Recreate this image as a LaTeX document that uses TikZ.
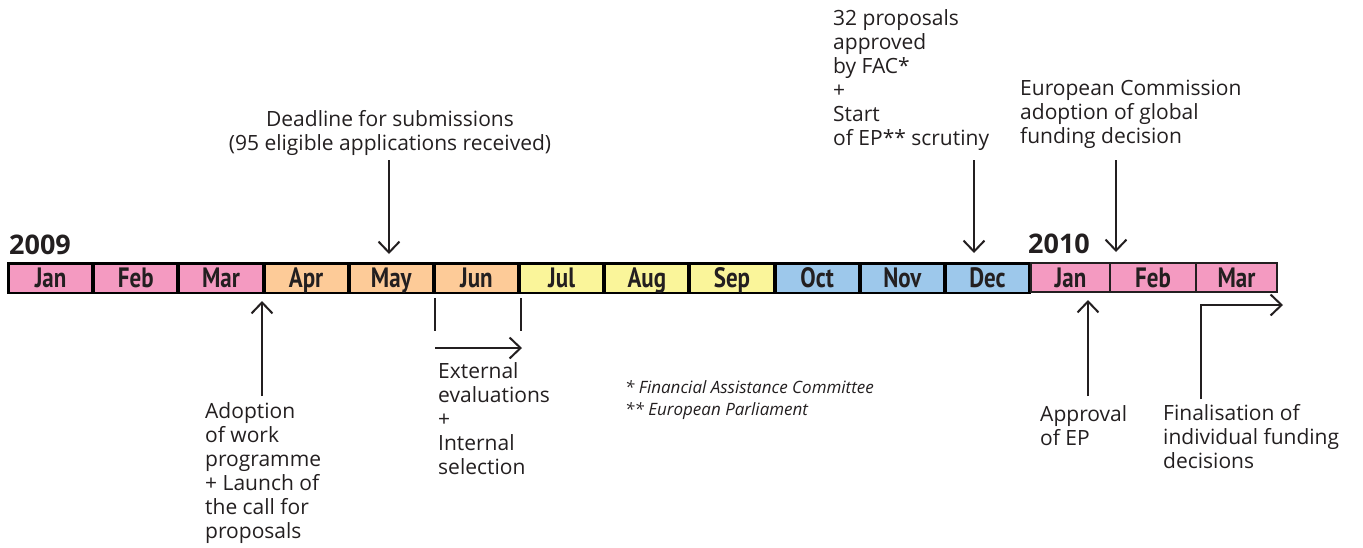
\documentclass[tikz,border=0pt]{standalone}
\usepackage{fontspec}
\setmainfont{Open Sans}
\newfontfamily\monthfont{PT Sans}
\usetikzlibrary{arrows.meta}
\definecolor{mpink}{HTML}{F49AC1}
\definecolor{mpeach}{HTML}{FDCB98}
\definecolor{myellow}{HTML}{FAF59A}
\definecolor{mblue}{HTML}{9DC8EB}
\definecolor{ink}{HTML}{231F20}
\newcommand\mlab[1]{\scalebox{0.82}[1]{#1}}
\begin{document}
\begin{tikzpicture}[x=1pt,y=-1pt,
  cell/.style={inner sep=0pt, minimum height=27pt, text height=21pt, text depth=2pt,
    text=ink, font=\monthfont\bfseries\fontsize{28}{28}\selectfont},
  cellb/.style={cell, minimum height=29pt, draw=ink, line width=1.8pt},
  txt/.style={inner sep=0pt, anchor=north west, align=left, text=ink,
    font=\fontsize{21}{24}\selectfont},
  ctxt/.style={txt, anchor=north, align=center},
  note/.style={txt, font=\itshape\fontsize{17}{22}\selectfont},
  year/.style={inner sep=0pt, anchor=base west, text=ink,
    font=\bfseries\fontsize{27}{27}\selectfont},
  arr/.style={draw=ink, line width=2pt, -{Straight Barb[length=11pt,width=21pt,line width=2pt]}},
  tick/.style={draw=ink, line width=1.6pt}]
\useasboundingbox (0,0) rectangle (1363,547);
% 2009 frame
\fill[black] (7,262) rectangle (1031,294);
\foreach \m/\c [count=\i from 0] in {Jan/mpink,Feb/mpink,Mar/mpink,Apr/mpeach,May/mpeach,Jun/mpeach,Jul/myellow,Aug/myellow,Sep/myellow,Oct/mblue,Nov/mblue,Dec/mblue}{
  \node[cell, fill=\c, minimum width=81.2pt] (m\i) at ({50.6+85.17*\i},278) {\mlab{\m}};
}
% 2010
\node[cellb, fill=mpink, minimum width=79pt] (n0) at (1070.5,277.5) {\mlab{Jan}};
\node[cellb, fill=mpink, minimum width=86pt] (n1) at (1153,277.5) {\mlab{Feb}};
\node[cellb, fill=mpink, minimum width=81pt] (n2) at (1236.5,277.5) {\mlab{Mar}};
% years
\node[year] (y09) at (9,254) {2009};
\node[year] (y10) at (1028,253) {2010};
% top texts
\node[ctxt] (deadline) at (390,109) {\strut Deadline for submissions\\(95 eligible applications received)};
\node[txt] (fac) at (833,8) {\strut 32 proposals\\approved\\by FAC*\\+\\Start\\of EP** scrutiny};
\node[txt] (ec) at (1020,78) {\strut European Commission\\adoption of global\\funding decision};
% bottom texts
\node[txt] (adopt) at (205,401) {\strut Adoption\\of work\\programme\\+ Launch of\\the call for\\proposals};
\node[txt] (ext) at (438,361) {\strut External\\evaluations\\+\\Internal\\selection};
\node[txt] (appr) at (1040,404) {\strut Approval\\of EP};
\node[txt] (fin) at (1163,403) {\strut Finalisation of\\individual funding\\decisions};
\node[note] (fn) at (625,378) {\strut * Financial Assistance Committee\\** European Parliament};
% arrows
\coordinate (a1) at (389,160); \coordinate (b1) at (389,254);
\coordinate (a2) at (974,160); \coordinate (b2) at (974,253);
\coordinate (a3) at (1116,160); \coordinate (b3) at (1116,252);
\coordinate (a4) at (262,396); \coordinate (b4) at (262,301);
\coordinate (a5) at (1088,396); \coordinate (b5) at (1088,300);
\coordinate (f1) at (1201,399); \coordinate (f2) at (1201,305); \coordinate (f3) at (1283,305);
\coordinate (j1) at (435,298); \coordinate (j2) at (435,331);
\coordinate (j3) at (521,298); \coordinate (j4) at (521,331);
\coordinate (j5) at (435,348); \coordinate (j6) at (522,348);
\draw[arr] (a1) -- (b1);
\draw[arr] (a2) -- (b2);
\draw[arr] (a3) -- (b3);
\draw[arr] (a4) -- (b4);
\draw[arr] (a5) -- (b5);
\draw[arr] (f1) -- (f2) -- (f3);
\draw[tick] (j1) -- (j2);
\draw[tick] (j3) -- (j4);
\draw[arr, line width=1.6pt] (j5) -- (j6);
\end{tikzpicture}
\end{document}
